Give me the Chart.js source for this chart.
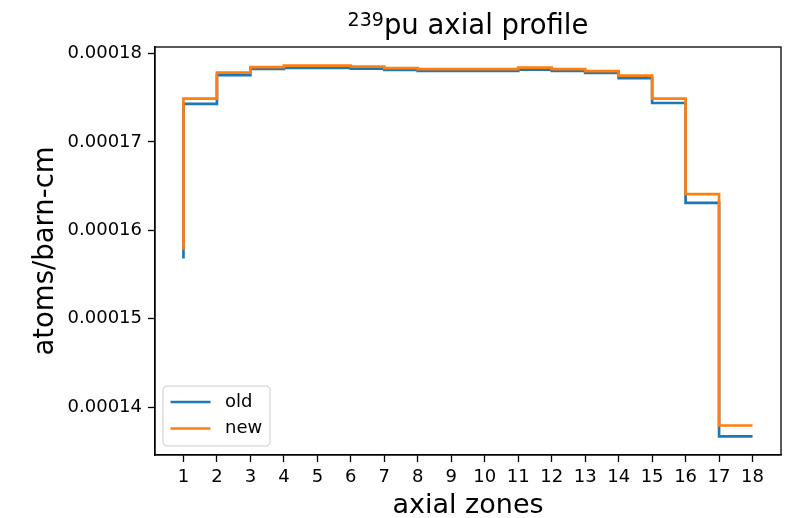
<!DOCTYPE html>
<html lang="en">
<head>
  <meta charset="UTF-8">
  <title>239pu axial profile</title>
  <script src="https://cdn.jsdelivr.net/npm/chart.js"></script>
  <style>
    body {
      margin: 0;
      background: white;
    }
    .chart-box {
      width: 790px;
      height: 518px;
    }
  </style>
</head>
<body>
  <div class="chart-box">
    <canvas id="profileChart" width="790" height="518"></canvas>
  </div>

  <script>
    const zones = [1, 2, 3, 4, 5, 6, 7, 8, 9, 10, 11, 12, 13, 14, 15, 16, 17, 18];
    const oldValues = [0.0001568, 0.0001743, 0.00017755, 0.00017826, 0.00017838, 0.00017838,
      0.0001783, 0.00017815, 0.00017804, 0.00017804, 0.00017804, 0.00017818,
      0.00017804, 0.00017781, 0.0001772, 0.0001744, 0.0001631, 0.00013667];
    const newValues = [0.0001578, 0.0001749, 0.00017785, 0.00017846, 0.00017864, 0.00017864,
      0.00017853, 0.00017834, 0.00017823, 0.00017823, 0.00017823, 0.0001784,
      0.00017823, 0.000178, 0.0001775, 0.0001749, 0.0001641, 0.00013791];
    const yTicks = [0.00014, 0.00015, 0.00016, 0.00017, 0.00018];

    const FONT = "'DejaVu Sans', sans-serif";

    // matplotlib style 5% margins
    const pad = (lo, hi) => (hi - lo) * 0.05;
    const allY = oldValues.concat(newValues);
    const yLo = Math.min(...allY), yHi = Math.max(...allY);
    const xLo = Math.min(...zones), xHi = Math.max(...zones);

    const toPoints = vals => zones.map((z, i) => ({ x: z, y: vals[i] }));

    // title with superscript, drawn above the plot
    const titlePlugin = {
      id: 'supTitle',
      afterDraw(chart) {
        const { ctx, chartArea } = chart;
        const cx = (chartArea.left + chartArea.right) / 2;
        ctx.save();
        ctx.fillStyle = 'black';
        ctx.textBaseline = 'alphabetic';
        ctx.font = '19px ' + FONT;
        const supW = ctx.measureText('239').width;
        ctx.font = '27.5px ' + FONT;
        const mainW = ctx.measureText('pu axial profile').width;
        const x0 = cx - (supW + mainW) / 2;
        ctx.textAlign = 'left';
        ctx.font = '19px ' + FONT;
        ctx.fillText('239', x0, 26);
        ctx.font = '27.5px ' + FONT;
        ctx.fillText('pu axial profile', x0 + supW, 34);
        ctx.restore();
      }
    };

    // full box around the plot + legend in lower left
    const framePlugin = {
      id: 'frameLegend',
      afterDraw(chart) {
        const { ctx, chartArea } = chart;
        ctx.save();
        ctx.strokeStyle = 'black';
        ctx.lineWidth = 1.3;
        ctx.strokeRect(chartArea.left, chartArea.top,
          chartArea.right - chartArea.left, chartArea.bottom - chartArea.top);

        const bw = 107, bh = 60;
        const bx = chartArea.left + 8, by = chartArea.bottom - 9 - bh;
        ctx.beginPath();
        ctx.roundRect(bx, by, bw, bh, 4);
        ctx.fillStyle = 'rgba(255,255,255,0.8)';
        ctx.fill();
        ctx.strokeStyle = '#cccccc';
        ctx.lineWidth = 1;
        ctx.stroke();

        const items = [['old', '#1f77b4'], ['new', '#ff7f0e']];
        items.forEach(([label, color], i) => {
          const ly = by + 16 + i * 26.5;
          ctx.beginPath();
          ctx.moveTo(bx + 7.5, ly);
          ctx.lineTo(bx + 47.5, ly);
          ctx.strokeStyle = color;
          ctx.lineWidth = 2.7;
          ctx.stroke();
          ctx.fillStyle = 'black';
          ctx.font = '18px ' + FONT;
          ctx.textBaseline = 'middle';
          ctx.textAlign = 'left';
          ctx.fillText(label, bx + 62, ly);
        });
        ctx.restore();
      }
    };

    const ctx = document.getElementById('profileChart').getContext('2d');

    new Chart(ctx, {
      type: 'line',
      data: {
        datasets: [{
          label: 'old',
          data: toPoints(oldValues),
          borderColor: '#1f77b4',
          borderWidth: 2.7,
          pointRadius: 0,
          stepped: 'after',
          fill: false,
          order: 2
        }, {
          label: 'new',
          data: toPoints(newValues),
          borderColor: '#ff7f0e',
          borderWidth: 2.7,
          pointRadius: 0,
          stepped: 'after',
          fill: false,
          order: 1
        }]
      },
      options: {
        responsive: false,
        animation: false,
        layout: {
          padding: { top: 47, right: 9, left: 0, bottom: 0 }
        },
        plugins: {
          legend: { display: false },
          title: { display: false },
          tooltip: { enabled: false }
        },
        scales: {
          x: {
            type: 'linear',
            min: xLo - pad(xLo, xHi),
            max: xHi + pad(xLo, xHi),
            afterBuildTicks: scale => {
              scale.ticks = zones.map(v => ({ value: v }));
            },
            afterFit: scale => { scale.height = 63; },
            grid: {
              drawOnChartArea: false,
              drawTicks: true,
              tickLength: 7,
              tickColor: 'black',
              tickWidth: 1.3
            },
            border: { display: true, color: 'black', width: 1.3 },
            ticks: {
              autoSkip: false,
              maxRotation: 0,
              padding: 5,
              color: 'black',
              font: { family: FONT, size: 18 },
              callback: v => String(v)
            },
            title: {
              display: true,
              text: 'axial zones',
              color: 'black',
              padding: 0,
              font: { family: FONT, size: 27, lineHeight: 0.9 }
            }
          },
          y: {
            min: yLo - pad(yLo, yHi),
            max: yHi + pad(yLo, yHi),
            afterBuildTicks: scale => {
              scale.ticks = yTicks.map(v => ({ value: v }));
            },
            afterFit: scale => { scale.width = 155; },
            grid: {
              drawOnChartArea: false,
              drawTicks: true,
              tickLength: 7,
              tickColor: 'black',
              tickWidth: 1.3
            },
            border: { display: true, color: 'black', width: 1.3 },
            ticks: {
              padding: 6,
              color: 'black',
              font: { family: FONT, size: 18 },
              callback: v => v.toFixed(5)
            },
            title: {
              display: true,
              text: 'atoms/barn-cm',
              color: 'black',
              padding: { top: 32, bottom: 0 },
              font: { family: FONT, size: 27.5, lineHeight: 1 }
            }
          }
        }
      },
      plugins: [titlePlugin, framePlugin]
    });
  </script>
</body>
</html>
